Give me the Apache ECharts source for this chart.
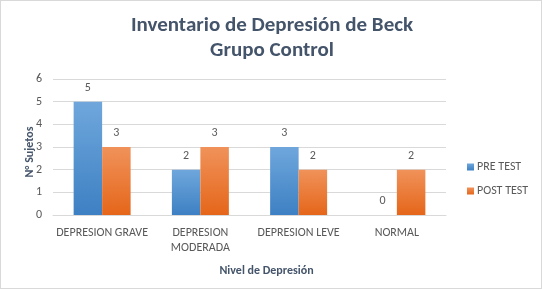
<!DOCTYPE html>
<html>
<head>
<meta charset="utf-8">
<script src="https://cdn.jsdelivr.net/npm/echarts@6/dist/echarts.min.js"></script>
<style>
  html, body { margin: 0; padding: 0; background: #fff; }
  #chart { width: 540px; height: 287px; border: 1px solid #d9d9d9; }
</style>
</head>
<body>
<div id="chart"></div>
<script>
// datos
var categorias = ["DEPRESION GRAVE", "DEPRESION\nMODERADA", "DEPRESION LEVE", "NORMAL"];
var preTest = [5, 2, 3, 0];
var postTest = [3, 3, 2, 2];
var yTicks = [0, 1, 2, 3, 4, 5, 6];

var myChart = echarts.init(document.getElementById("chart"));
var fuente = "Carlito, 'Liberation Sans Narrow', 'DejaVu Sans Condensed', Lato, sans-serif";

function grad(top, bottom) {
  return new echarts.graphic.LinearGradient(0, 0, 0, 1, [
    { offset: 0, color: top },
    { offset: 1, color: bottom }
  ]);
}

var option = {
  animation: false,
  title: {
    text: "Inventario de Depresión de Beck\nGrupo Control",
    left: 266,
    textAlign: "center",
    top: 7,
    textStyle: {
      color: "#44546a",
      fontSize: 21,
      fontWeight: "bold",
      fontFamily: fuente,
      lineHeight: 25
    }
  },
  legend: {
    orient: "vertical",
    left: 461,
    top: 155,
    itemWidth: 7,
    itemHeight: 7,
    itemGap: 12,
    icon: "rect",
    data: ["PRE TEST", "POST TEST"],
    textStyle: { color: "#595959", fontSize: 12, fontFamily: fuente, padding: [0, 0, 0, -2] }
  },
  grid: {
    left: 52,
    right: 95,
    top: 78,
    bottom: 73,
    containLabel: false
  },
  xAxis: {
    type: "category",
    data: categorias,
    name: "Nivel de Depresión",
    nameLocation: "middle",
    nameGap: 50,
    nameMoveOverlap: false,
    nameTextStyle: { color: "#44546a", fontSize: 12, fontWeight: "bold", fontFamily: fuente, padding: [0, 0, 0, 34] },
    axisTick: { show: false },
    axisLine: { show: true, lineStyle: { color: "#d9d9d9" } },
    axisLabel: {
      color: "#595959",
      fontSize: 12,
      fontFamily: fuente,
      margin: 10,
      lineHeight: 15,
      interval: 0
    }
  },
  yAxis: {
    type: "value",
    min: yTicks[0],
    max: yTicks[yTicks.length - 1],
    interval: 1,
    name: "N° Sujetos",
    nameLocation: "middle",
    nameGap: 17,
    nameMoveOverlap: false,
    nameRotate: 90,
    nameTextStyle: { color: "#44546a", fontSize: 12, fontWeight: "bold", fontFamily: fuente, padding: [0, 10, 0, 0] },
    axisLine: { show: false },
    axisTick: { show: false },
    axisLabel: { color: "#595959", fontSize: 12, fontFamily: fuente, margin: 11 },
    splitLine: { show: true, lineStyle: { color: "#d9d9d9" } }
  },
  series: [
    {
      name: "PRE TEST",
      type: "bar",
      data: preTest,
      barGap: "0%",
      barCategoryGap: "42%",
      itemStyle: { color: grad("#6fa7dc", "#3d80c3") },
      label: { show: true, position: "top", distance: 8, color: "#595959", fontSize: 12, fontFamily: fuente }
    },
    {
      name: "POST TEST",
      type: "bar",
      data: postTest,
      itemStyle: { color: grad("#f0925a", "#e5661a") },
      label: { show: true, position: "top", distance: 8, color: "#595959", fontSize: 12, fontFamily: fuente }
    }
  ]
};

myChart.setOption(option);
window.addEventListener("resize", function () { myChart.resize(); });
</script>
</body>
</html>
